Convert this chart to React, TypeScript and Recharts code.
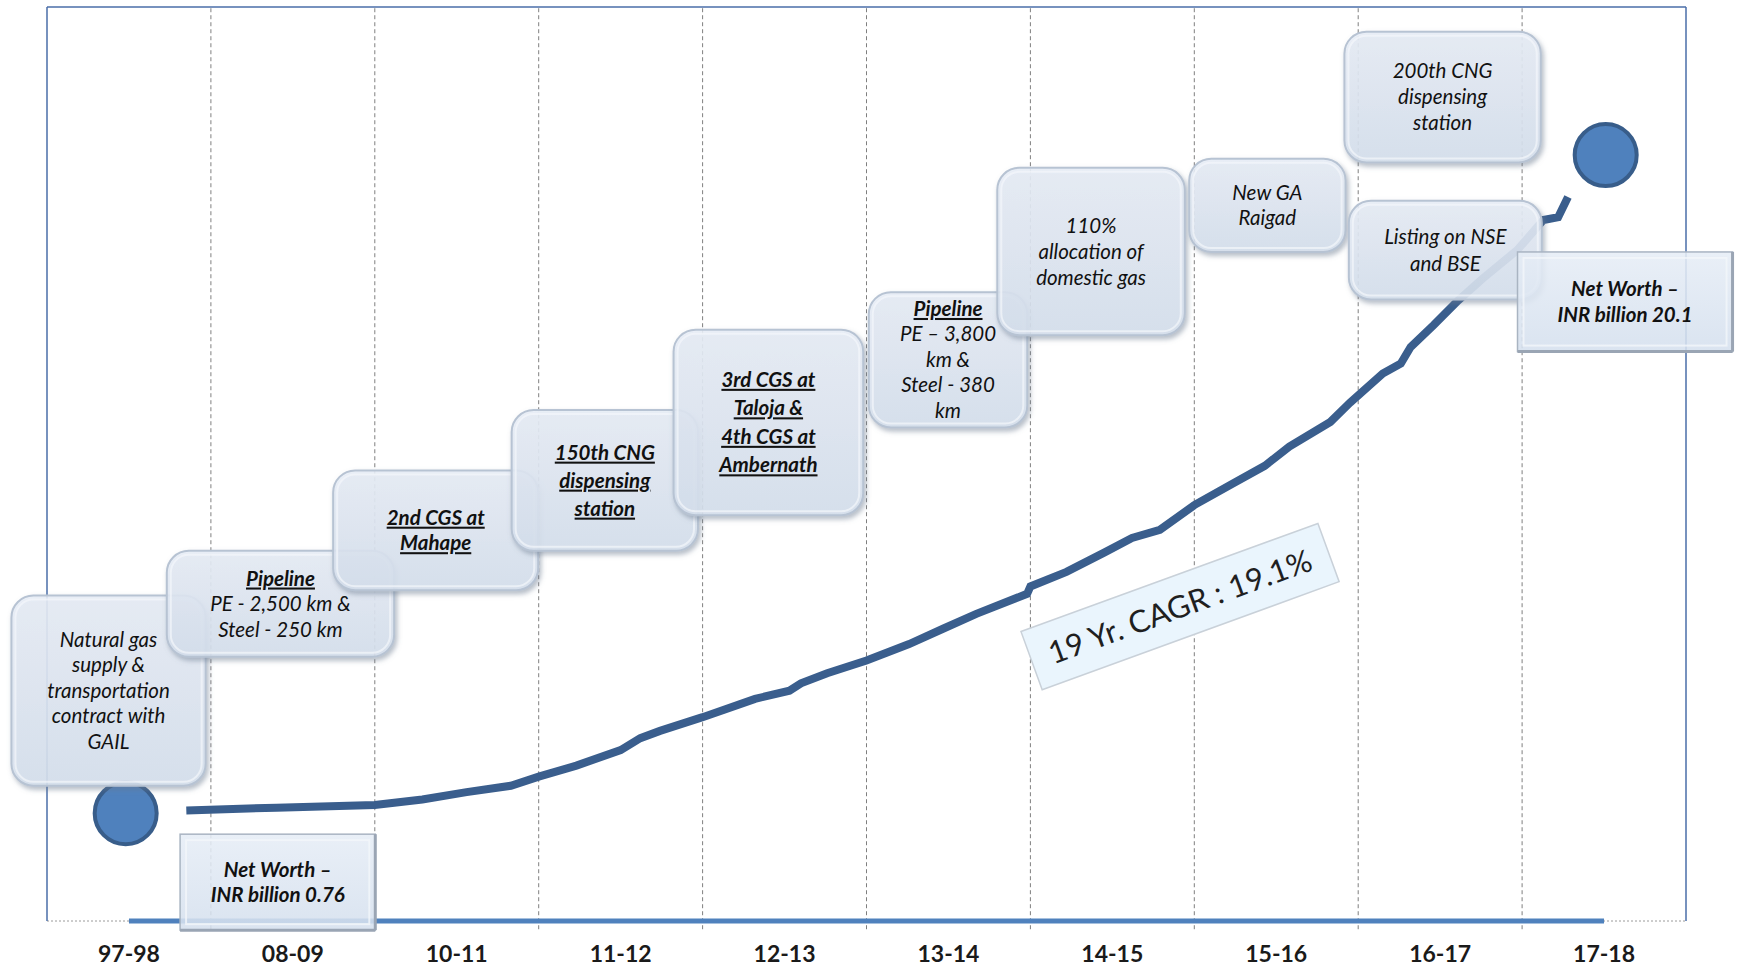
import { ComposedChart, Line, Scatter, XAxis, YAxis, ReferenceLine, ReferenceArea, ReferenceDot } from 'recharts';

// fiscal year columns along the bottom
const yearLabels = ['97-98', '08-09', '10-11', '11-12', '12-13', '13-14', '14-15', '15-16', '16-17', '17-18'];
const tickPositions = yearLabels.map((_, i) => i + 0.5);
const columnDividers = [1, 2, 3, 4, 5, 6, 7, 8, 9];

// schematic net worth growth curve (column units / relative height)
const trendX = [0.85, 1.4, 2.0, 2.29, 2.56, 2.83, 3.0, 3.23, 3.5, 3.62, 3.74, 4.0, 4.32, 4.53, 4.6, 4.76, 5.0, 5.26, 5.47, 5.67, 5.98, 6.0, 6.22, 6.45, 6.62, 6.79, 7.0, 7.23, 7.43, 7.58, 7.83, 7.95, 8.15, 8.26, 8.32, 8.46, 8.61, 8.76, 8.97, 9.13, 9.22, 9.28];
const trendY = [12.1, 12.4, 12.7, 13.3, 14.1, 14.8, 15.8, 17.0, 18.7, 20.0, 20.8, 22.3, 24.3, 25.2, 26.0, 27.1, 28.5, 30.3, 32.0, 33.6, 35.8, 36.6, 38.2, 40.3, 41.9, 42.8, 45.5, 47.8, 49.8, 51.9, 54.6, 56.7, 59.9, 61.0, 62.8, 65.2, 67.9, 70.3, 73.4, 76.7, 77.0, 79.2];

const endpointX = [0.48, 9.51];
const endpointY = [11.8, 83.8];

const milestoneText = [
  ['Natural gas', 'supply &', 'transportation', 'contract with', 'GAIL'],
  ['Pipeline', 'PE - 2,500 km &', 'Steel - 250 km'],
  ['2nd CGS at', 'Mahape'],
  ['150th CNG', 'dispensing', 'station'],
  ['3rd CGS at', 'Taloja &', '4th CGS at', 'Ambernath'],
  ['Pipeline', 'PE \u2013 3,800', 'km &', 'Steel - 380', 'km'],
  ['110%', 'allocation of', 'domestic gas'],
  ['New GA', 'Raigad'],
  ['200th CNG', 'dispensing', 'station'],
  ['Listing on NSE', 'and BSE'],
];
// how many leading lines are bold + underlined
const milestoneHeadLines = [0, 1, 2, 3, 4, 1, 0, 0, 0, 0];

const netWorthText = [
  ['Net Worth \u2013', 'INR billion 0.76'],
  ['Net Worth \u2013', 'INR billion 20.1'],
];

const cagrLabel = '19 Yr. CAGR : 19.1%';

// layout of the callouts, in chart units
const milestoneBoxes = [
  { x1: -0.217, x2: 0.968, y1: 14.8, y2: 35.6, lh: 25.5 },
  { x1: 0.731, x2: 2.118, y1: 28.9, y2: 40.5, lh: 25.5 },
  { x1: 1.746, x2: 2.997, y1: 36.2, y2: 49.3, lh: 25.5 },
  { x1: 2.835, x2: 3.972, y1: 40.5, y2: 55.9, lh: 28 },
  { x1: 3.823, x2: 4.98, y1: 44.4, y2: 64.7, lh: 28.5 },
  { x1: 5.014, x2: 5.981, y1: 54.0, y2: 68.8, lh: 25.5 },
  { x1: 5.798, x2: 6.942, y1: 64.1, y2: 82.4, lh: 26 },
  { x1: 6.969, x2: 7.923, y1: 73.2, y2: 83.4, lh: 25.5 },
  { x1: 7.916, x2: 9.114, y1: 83.0, y2: 97.3, lh: 26 },
  { x1: 7.943, x2: 9.12, y1: 68.0, y2: 78.8, lh: 26.5 },
];
const netWorthBoxes = [
  { x1: 0.812, x2: 2.003, y1: -1.0, y2: 9.5 },
  { x1: 8.972, x2: 10.284, y1: 62.3, y2: 73.2 },
];
const cagrAt = { x: 6.913, y: 34.4 };

const FONT = 'Lato, "Open Sans", sans-serif';
const TEXT_SIZE = 20.5;

const trendData = trendX.map((x, i) => ({ x, y: trendY[i] }));
const endpointData = endpointX.map((x, i) => ({ x, y: endpointY[i] }));

const boxLines = (lines: string[], head: number, bold: boolean, cx: number, cy: number, lh: number) =>
  lines.map((t, i) => {
    const strong = bold || i < head;
    return (
      <text
        key={i}
        x={cx}
        y={cy + (i - (lines.length - 1) / 2) * lh + TEXT_SIZE * 0.35}
        textAnchor="middle"
        fontFamily={FONT}
        fontSize={TEXT_SIZE}
        fontStyle="italic"
        fontWeight={strong ? 700 : 400}
        textDecoration={i < head ? 'underline' : undefined}
        fill="#111"
      >
        {t}
      </text>
    );
  });

const roundedBox = (idx: number) => (props: any) => {
  const { x, y, width, height } = props;
  const b = milestoneBoxes[idx];
  return (
    <g>
      <defs>
        <linearGradient id={`mg${idx}`} x1="0" y1="0" x2="0" y2="1">
          <stop offset="0%" stopColor="#e9eff8" />
          <stop offset="100%" stopColor="#d8e2ef" />
        </linearGradient>
        <filter id={`ms${idx}`} x="-10%" y="-10%" width="125%" height="130%">
          <feDropShadow dx="2" dy="3" stdDeviation="2.5" floodColor="#6b7a8f" floodOpacity="0.55" />
        </filter>
      </defs>
      <rect x={x} y={y} width={width} height={height} rx={22} ry={22} fill={`url(#mg${idx})`} fillOpacity={0.86} stroke="#b7c3d3" strokeWidth={2} filter={`url(#ms${idx})`} />
      <rect x={x + 4} y={y + 4} width={width - 8} height={height - 8} rx={18} ry={18} fill="none" stroke="#f4f7fb" strokeOpacity={0.7} strokeWidth={2} />
      {boxLines(milestoneText[idx], milestoneHeadLines[idx], false, x + width / 2, y + height / 2, b.lh)}
    </g>
  );
};

const bevelBox = (idx: number) => (props: any) => {
  const { x, y, width, height } = props;
  return (
    <g>
      <defs>
        <linearGradient id={`ng${idx}`} x1="0" y1="0" x2="0" y2="1">
          <stop offset="0%" stopColor="#e6edf6" />
          <stop offset="100%" stopColor="#d5e0ee" />
        </linearGradient>
      </defs>
      <rect x={x} y={y} width={width} height={height} fill={`url(#ng${idx})`} fillOpacity={0.88} stroke="#a9b4c2" strokeWidth={1.5} />
      <rect x={x + 6} y={y + 6} width={width - 12} height={height - 12} fill="none" stroke="#f3f6fa" strokeOpacity={0.8} strokeWidth={2} />
      <line x1={x} y1={y + height} x2={x + width} y2={y + height} stroke="#9aa5b4" strokeWidth={3} />
      <line x1={x + width} y1={y} x2={x + width} y2={y + height} stroke="#9aa5b4" strokeWidth={3} />
      {boxLines(netWorthText[idx], 0, true, x + width / 2, y + height / 2, 25.5)}
    </g>
  );
};

const cagrShape = (props: any) => {
  const { cx, cy } = props;
  return (
    <g transform={`translate(${cx},${cy}) rotate(-20)`}>
      <rect x={-158} y={-31} width={316} height={62} fill="#eaf5fd" stroke="#c9d1d9" strokeWidth={1.5} />
      <text x={0} y={11} textAnchor="middle" fontFamily={FONT} fontSize={31} fill="#1f1f1f">
        {cagrLabel}
      </text>
    </g>
  );
};

const endpointShape = (props: any) => (
  <circle cx={props.cx} cy={props.cy} r={31} fill="#4f81bd" stroke="#385d8a" strokeWidth={4} />
);

export default function App() {
  return (
    <div style={{ position: 'absolute', left: 0, top: 0, fontFamily: FONT, background: '#fff' }}>
      <ComposedChart width={1737} height={967} data={trendData} margin={{ top: 7, right: 51, bottom: 16, left: 47 }}>
        <XAxis
          type="number"
          dataKey="x"
          domain={[0, 10]}
          allowDataOverflow
          ticks={tickPositions}
          tickFormatter={(v: number) => yearLabels[Math.round(v - 0.5)]}
          axisLine={false}
          tickLine={false}
          tickSize={0}
          tickMargin={25}
          height={30}
          tick={{ fontSize: 23, fontWeight: 700, fill: '#1a1a1a', fontFamily: FONT }}
          interval={0}
        />
        <YAxis type="number" domain={[0, 100]} hide allowDataOverflow />

        {columnDividers.map((c) => (
          <ReferenceLine
            key={c}
            segment={[{ x: c, y: -0.9 }, { x: c, y: 100 }]}
            stroke="#7f7f7f"
            strokeDasharray="4 3"
            strokeWidth={1}
            ifOverflow="visible"
          />
        ))}
        <ReferenceLine y={0} stroke="#9a9a9a" strokeDasharray="2 2" strokeWidth={1} />
        <ReferenceLine x={0} stroke="#4a6ea8" strokeWidth={1.5} />
        <ReferenceLine x={10} stroke="#4a6ea8" strokeWidth={1.5} />
        <ReferenceLine y={100} stroke="#4a6ea8" strokeWidth={1.5} />
        <ReferenceLine segment={[{ x: 0.5, y: 0 }, { x: 9.5, y: 0 }]} stroke="#4f81bd" strokeWidth={5} ifOverflow="visible" />

        <Line type="linear" dataKey="y" stroke="#3a5e8d" strokeWidth={8} dot={false} activeDot={false} isAnimationActive={false} />
        <Scatter data={endpointData} dataKey="y" shape={endpointShape} isAnimationActive={false} />

        {milestoneBoxes.map((b, i) => (
          <ReferenceArea key={`m${i}`} x1={b.x1} x2={b.x2} y1={b.y1} y2={b.y2} ifOverflow="visible" shape={roundedBox(i)} zIndex={600} />
        ))}
        {netWorthBoxes.map((b, i) => (
          <ReferenceArea key={`n${i}`} x1={b.x1} x2={b.x2} y1={b.y1} y2={b.y2} ifOverflow="visible" shape={bevelBox(i)} zIndex={650} />
        ))}
        <ReferenceDot x={cagrAt.x} y={cagrAt.y} ifOverflow="visible" shape={cagrShape} zIndex={700} />
      </ComposedChart>
    </div>
  );
}
